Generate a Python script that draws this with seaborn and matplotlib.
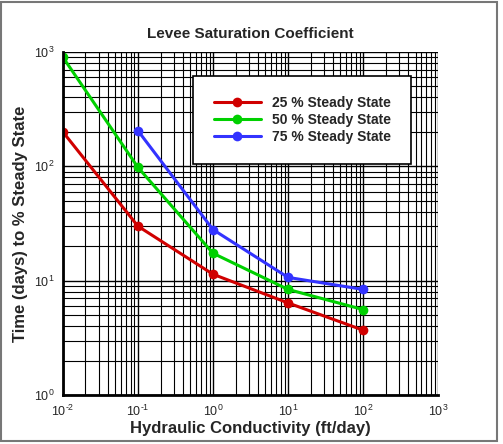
import numpy as np
import pandas as pd
import matplotlib
matplotlib.use("Agg")
import matplotlib.pyplot as plt
import matplotlib.ticker as mticker
import seaborn as sns

# values
conductivity = [0.01, 0.1, 1, 10, 100]
steady_25 = [200, 30, 11.4, 6.4, 3.7]
steady_50 = [900, 98, 17.4, 8.4, 5.6]
blue_conductivity = [0.1, 1, 10, 100]
steady_75 = [205, 28, 10.7, 8.4]

labels = ["25 % Steady State", "50 % Steady State", "75 % Steady State"]
colors = ["#d00000", "#00d000", "#3333ff"]

df = pd.concat([
    pd.DataFrame({"K": conductivity, "T": steady_25, "series": labels[0]}),
    pd.DataFrame({"K": conductivity, "T": steady_50, "series": labels[1]}),
    pd.DataFrame({"K": blue_conductivity, "T": steady_75, "series": labels[2]}),
])

sns.set_style("white")
plt.rcParams['font.family'] = ['Liberation Sans', 'DejaVu Sans']
plt.rcParams['mathtext.fontset'] = 'custom'
plt.rcParams['mathtext.rm'] = 'Liberation Sans'


def pow10(val, pos):
    e = int(round(np.log10(val)))
    exp = r'\text{-}%d' % abs(e) if e < 0 else '%d' % e
    return r'$\mathdefault{10^{%s}}$' % exp


fig = plt.figure(figsize=(5.03, 4.44), dpi=100)
ax = fig.add_axes([0.125, 0.110, 0.746, 0.773])

ax.set_xscale('log')
ax.set_yscale('log')
ax.set_xlim(1e-2, 1e3)
ax.set_ylim(1e0, 1e3)

ax.grid(True, which='major', color='black', linewidth=1.0)
ax.grid(True, which='minor', color='black', linewidth=0.8)
ax.set_axisbelow(True)

sns.lineplot(data=df, x="K", y="T", hue="series", palette=colors,
             marker='o', markersize=7, markeredgewidth=0, linewidth=2.2,
             ax=ax, legend=True)

ax.xaxis.set_major_locator(mticker.LogLocator(base=10, numticks=10))
ax.yaxis.set_major_locator(mticker.LogLocator(base=10, numticks=10))
ax.xaxis.set_major_formatter(mticker.FuncFormatter(pow10))
ax.yaxis.set_major_formatter(mticker.FuncFormatter(pow10))
ax.xaxis.set_minor_locator(mticker.LogLocator(base=10, subs=np.arange(2, 10), numticks=20))
ax.yaxis.set_minor_locator(mticker.LogLocator(base=10, subs=np.arange(2, 10), numticks=20))
ax.xaxis.set_minor_formatter(mticker.NullFormatter())
ax.yaxis.set_minor_formatter(mticker.NullFormatter())
ax.tick_params(which='major', direction='in', length=8, width=1.2, labelsize=9, pad=6)
ax.tick_params(which='minor', direction='in', length=4, width=1.0)

for side in ['top', 'right']:
    ax.spines[side].set_visible(False)
for side in ['left', 'bottom']:
    ax.spines[side].set_linewidth(2)
    ax.spines[side].set_color('black')

ax.set_title("Levee Saturation Coefficient", fontsize=11, fontweight='bold', pad=10)
ax.set_xlabel("Hydraulic Conductivity (ft/day)", fontsize=12, fontweight='bold', labelpad=2)
ax.set_ylabel("Time (days) to % Steady State", fontsize=12, fontweight='bold', labelpad=4)

leg = ax.legend(loc='upper left', bbox_to_anchor=(0.348, 0.93), frameon=True,
                fancybox=False, framealpha=1, edgecolor='black',
                prop={'weight': 'bold', 'size': 10}, handlelength=3.4,
                borderpad=1.45, labelspacing=0.2, handletextpad=0.8, borderaxespad=0)
leg.get_frame().set_linewidth(1.2)

fig.patches.append(plt.Rectangle((0.002, 0.006), 0.986, 0.99, transform=fig.transFigure,
                                 fill=False, edgecolor='#777777', linewidth=1.5))

fig.savefig("out.png", dpi=100)
